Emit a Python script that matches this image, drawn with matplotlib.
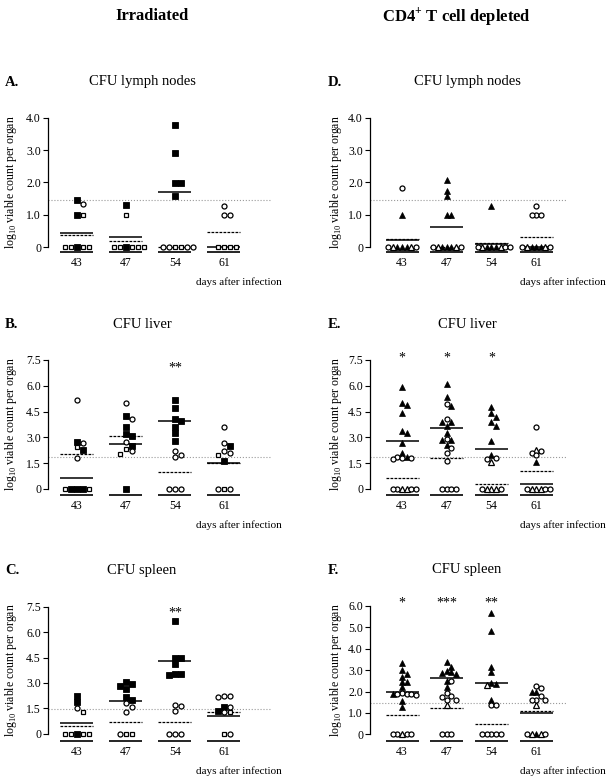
import matplotlib
matplotlib.use("Agg")
import matplotlib.pyplot as plt

plt.rcParams['font.family'] = 'Liberation Serif'
plt.rcParams['mathtext.fontset'] = 'custom'
plt.rcParams['mathtext.rm'] = 'Liberation Serif'
plt.rcParams['mathtext.bf'] = 'Liberation Serif:bold'

days = [43, 47, 54, 61]

# ---- A. CFU lymph nodes, irradiated
A_sq_filled = [[1.45, 1.0, 0], [1.3, 0], [3.78, 2.92, 1.97, 1.97, 1.57], []]
A_sq_open = [[1.0, 0, 0, 0, 0], [1.0, 0, 0, 0, 0, 0], [0, 0], [0, 0, 0, 0]]
A_circ = [[1.32], [], [0, 0, 0, 0], [1.28, 1.0, 1.0]]
A_solid = [0.42, 0.30, 1.72, 0.0]
A_dashed = [0.38, 0.19, 0.0, 0.47]
A_stars = ['', '', '', '']

# ---- B. CFU liver, irradiated
B_sq_filled = [[2.75, 2.27, 0, 0, 0], [4.25, 3.6, 3.2, 3.1, 2.5, 0],
               [5.2, 4.7, 4.05, 3.95, 3.62, 3.27, 2.79], [2.5, 1.6]]
B_sq_open = [[2.42, 0, 0], [2.3, 2.05], [], [1.95, 0]]
B_circ = [[5.2, 2.65, 1.82], [5.0, 4.05, 2.75, 2.2],
          [2.2, 2.0, 1.84, 0, 0, 0], [3.62, 2.67, 2.2, 2.1, 0, 0]]
B_solid = [0.62, 2.62, 3.93, 1.53]
B_dashed = [2.02, 3.1, 1.0, 1.5]
B_stars = ['', '', '**', '']

# ---- C. CFU spleen, irradiated
C_sq_filled = [[2.24, 1.89, 0], [3.04, 2.94, 2.84, 2.64, 2.15, 2.0],
               [6.67, 4.5, 4.45, 4.1, 3.53, 3.5, 3.45], [1.6, 1.35]]
C_sq_open = [[1.26, 0, 0, 0, 0], [0, 0], [], [1.28, 0]]
C_circ = [[1.5], [1.8, 1.56, 1.26, 0], [1.7, 1.65, 1.35, 0, 0, 0],
          [2.2, 2.2, 2.15, 1.6, 1.3, 0]]
C_solid = [0.62, 1.93, 4.31, 1.02]
C_dashed = [0.47, 0.71, 0.72, 1.27]
C_stars = ['', '', '**', '']

# ---- D. CFU lymph nodes, CD4+ depleted
D_tri_filled = [[1.0, 0, 0, 0], [2.08, 1.75, 1.57, 1.0, 1.0, 0, 0, 0],
                [1.28, 0, 0, 0], [0, 0, 0]]
D_tri_open = [[0, 0], [0, 0], [0, 0], [0, 0]]
D_circ = [[1.82, 0, 0], [0, 0], [0, 0, 0], [1.28, 1.0, 1.0, 1.0, 0, 0]]
D_solid = [0.22, 0.62, 0.10, 0.0]
D_dashed = [0.25, 0.0, 0.12, 0.30]
D_stars = ['', '', '', '']

# ---- E. CFU liver, CD4+ depleted
E_tri_filled = [[5.95, 4.98, 4.9, 4.4, 3.39, 3.28, 2.66, 2.11, 1.85],
                [6.1, 5.33, 4.85, 3.9, 3.9, 3.66, 3.24, 2.85, 2.85, 2.55],
                [4.79, 4.4, 4.2, 3.9, 3.66, 2.79, 2.0], [1.58]]
E_tri_open = [[0, 0], [], [1.55, 0, 0, 0], [2.25, 0, 0, 0]]
E_circ = [[1.85, 1.8, 1.75, 1.8, 0, 0, 0, 0],
          [4.95, 4.05, 2.9, 2.4, 2.1, 1.64, 0, 0, 0, 0],
          [1.8, 1.75, 0, 0], [3.62, 2.2, 2.1, 1.95, 0, 0, 0]]
E_solid = [2.78, 3.57, 2.3, 0.3]
E_dashed = [0.66, 1.78, 0.29, 1.05]
E_stars = ['*', '*', '*', '']

# ---- F. CFU spleen, CD4+ depleted
F_tri_filled = [[3.32, 3.0, 2.8, 2.69, 2.46, 2.45, 2.2, 1.87, 1.57, 1.29],
                [3.36, 3.14, 2.95, 2.9, 2.85, 2.8, 2.5, 2.2],
                [5.68, 4.83, 3.14, 2.9, 2.4, 2.35, 1.6], [2.0, 2.0, 0]]
F_tri_open = [[0], [1.35], [2.3], [1.35, 0, 0]]
F_circ = [[1.92, 1.9, 1.88, 1.9, 1.85, 0, 0, 0, 0],
          [2.5, 1.95, 1.8, 1.75, 1.6, 1.6, 0, 0, 0],
          [1.35, 1.35, 0, 0, 0, 0, 0], [2.27, 2.15, 1.8, 1.6, 1.6, 1.6, 0, 0]]
F_solid = [1.96, 2.62, 2.41, 0.98]
F_dashed = [0.9, 1.21, 0.48, 1.09]
F_stars = ['*', '***', '**', '']

# detection limits (dotted lines)
detect = {'A': 1.45, 'B': 1.84, 'C': 1.48, 'D': 1.45, 'E': 1.84, 'F': 1.48}

# marker styles
sq_filled = dict(marker='s', ms=3.8, mfc='black', mec='black', mew=0.6)
sq_open = dict(marker='s', ms=3.5, mfc='white', mec='black', mew=0.9)
circ = dict(marker='o', ms=3.6, mfc='white', mec='black', mew=0.9)
tri_filled = dict(marker='^', ms=4.3, mfc='black', mec='black', mew=0.5)
tri_open = dict(marker='^', ms=4.2, mfc='white', mec='black', mew=0.9)

W, H = 608, 776
fig = plt.figure(figsize=(W / 100, H / 100), dpi=100)


def swarm(ax, i, series, xpx, ypx, step):
    # spread points that would overlap, center-out
    pts = [(v, k) for k, (vals, st) in enumerate(series) for v in vals]
    pts.sort(key=lambda p: -p[0])
    placed = []
    xs = [[] for _ in series]
    ys = [[] for _ in series]
    for v, k in pts:
        y = v * ypx
        for n in range(40):
            off = ((n + 1) // 2) * (1 if n % 2 else -1) * step
            if all(abs(off - px) >= step * 0.9 or abs(y - py) >= 5.0 for px, py in placed):
                break
        placed.append((off, y))
        xs[k].append(i + off / xpx)
        ys[k].append(v)
    for k, (vals, st) in enumerate(series):
        ax.plot(xs[k], ys[k], ls='none', clip_on=False, zorder=4, **st)


def panel(letter, title, series, solid, dashed, stars, star_y,
          col, ytop_px, yzero_px, ybot_px, ymax, yticks, yticklabels):
    if col == 0:
        x0, x1, xc, sp, step = 48, 272, 77, 49.0, 6.0
    else:
        x0, x1, xc, sp, step = 370, 567, 402, 44.7, 4.6
    ax = fig.add_axes([x0 / W, 1 - ybot_px / H, (x1 - x0) / W, (ybot_px - ytop_px) / H])
    ypx = (yzero_px - ytop_px) / ymax
    ybot = -(ybot_px - yzero_px) / ypx
    ax.set_xlim((x0 - xc) / sp, (x1 - xc) / sp)
    ax.set_ylim(ybot, ymax)
    for s in ['top', 'right', 'bottom']:
        ax.spines[s].set_visible(False)
    ax.spines['left'].set_bounds(0, ymax)
    ax.spines['left'].set_linewidth(0.9)
    ax.set_yticks(yticks)
    ax.set_yticklabels(yticklabels)
    ax.tick_params(axis='y', length=3.5, width=0.8, labelsize=8.5, pad=1.5)
    ax.set_xticks(range(4))
    ax.set_xticklabels([str(d) for d in days])
    ax.tick_params(axis='x', length=0, labelsize=8.5, pad=3.5)
    ax.patch.set_alpha(0)

    hw = 16.5 / sp
    ax.axhline(detect[letter], color='#9a9a9a', ls=':', lw=0.8, zorder=1)
    for i in range(4):
        ax.plot([i - hw, i + hw], [ybot, ybot], color='black', lw=1.2,
                clip_on=False, solid_capstyle='butt')
        ax.plot([i - hw, i + hw], [solid[i], solid[i]], color='black', lw=1.1,
                zorder=3, solid_capstyle='butt')
        ax.plot([i - hw, i + hw], [dashed[i], dashed[i]], color='black', lw=0.9,
                ls=(0, (2.2, 1.0)), zorder=3)
        swarm(ax, i, [(s[0][i], s[1]) for s in series], sp, ypx, step)
        if stars[i]:
            ax.text(i, star_y, stars[i], ha='center', va='center', fontsize=10,
                    clip_on=False)

    # labels around the panel
    lx = 5 if col == 0 else 328
    tx = 142 if col == 0 else 467
    ty = ytop_px - 36
    fig.text(lx / W, 1 - ty / H, letter + '.', fontsize=10.5, fontweight='bold',
             ha='left', va='center')
    fig.text(tx / W, 1 - ty / H, title, fontsize=10.5, ha='center', va='center')
    ylx = 11 if col == 0 else 336
    fig.text(ylx / W, 1 - (ytop_px + yzero_px) / 2 / H,
             r'log$_{\mathrm{10}}$ viable count per organ', rotation=90,
             fontsize=8.5, ha='center', va='center')
    dx = 282 if col == 0 else 606
    fig.text(dx / W, 1 - (ybot_px + 30) / H, 'days after infection',
             fontsize=8, ha='right', va='center')
    return ax


lin4 = ([0, 1, 2, 3, 4], ['0', '1.0', '2.0', '3.0', '4.0'])
lin75 = ([0, 1.5, 3, 4.5, 6, 7.5], ['0', '1.5', '3.0', '4.5', '6.0', '7.5'])
lin6 = ([0, 1, 2, 3, 4, 5, 6], ['0', '1.0', '2.0', '3.0', '4.0', '5.0', '6.0'])

panel('A', 'CFU lymph nodes',
      [(A_sq_filled, sq_filled), (A_sq_open, sq_open), (A_circ, circ)],
      A_solid, A_dashed, A_stars, 0, 0, 118, 247, 252, 4.0, *lin4)
panel('B', 'CFU liver',
      [(B_sq_filled, sq_filled), (B_sq_open, sq_open), (B_circ, circ)],
      B_solid, B_dashed, B_stars, 7.05, 0, 360, 489, 495, 7.5, *lin75)
panel('C', 'CFU spleen',
      [(C_sq_filled, sq_filled), (C_sq_open, sq_open), (C_circ, circ)],
      C_solid, C_dashed, C_stars, 7.1, 0, 606.7, 733.7, 741, 7.5, *lin75)
panel('D', 'CFU lymph nodes',
      [(D_tri_filled, tri_filled), (D_tri_open, tri_open), (D_circ, circ)],
      D_solid, D_dashed, D_stars, 0, 1, 118, 247, 252, 4.0, *lin4)
panel('E', 'CFU liver',
      [(E_tri_filled, tri_filled), (E_tri_open, tri_open), (E_circ, circ)],
      E_solid, E_dashed, E_stars, 7.6, 1, 360, 489, 495, 7.5, *lin75)
panel('F', 'CFU spleen',
      [(F_tri_filled, tri_filled), (F_tri_open, tri_open), (F_circ, circ)],
      F_solid, F_dashed, F_stars, 6.15, 1, 606, 734.3, 741, 6.0, *lin6)

# column headers
fig.text(152 / W, 1 - 16 / H, 'Irradiated', fontsize=12, fontweight='bold',
         ha='center', va='center')
fig.text(456 / W, 1 - 16 / H, r'CD4$^{\mathbf{+}}$ T cell depleted', fontsize=12,
         fontweight='bold', ha='center', va='center')

fig.savefig('out.png', dpi=100)
